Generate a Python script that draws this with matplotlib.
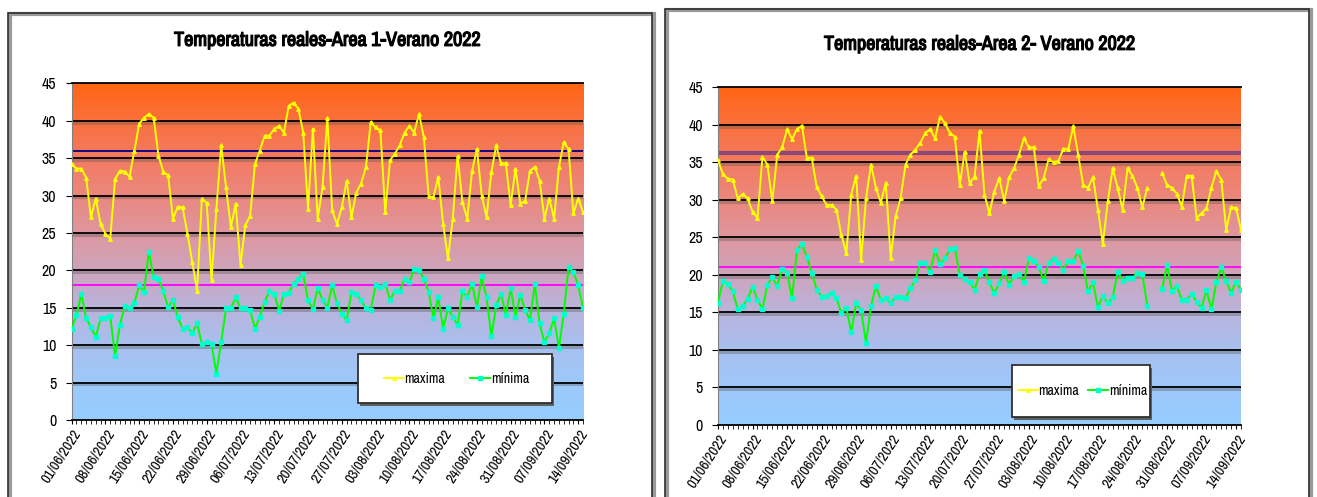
import numpy as np
import pandas as pd
import matplotlib
matplotlib.use("Agg")
import matplotlib.pyplot as plt
import matplotlib.patheffects as pe
from matplotlib import font_manager
from matplotlib.colors import LinearSegmentedColormap
from matplotlib.patches import Rectangle

# ---- data -------------------------------------------------------------
dates = pd.date_range("2022-06-01", periods=107)
tick_labels = [d.strftime("%d/%m/%Y") for d in dates[::7]]

area1_max = [34.2, 33.6, 33.6, 32.4, 27.1, 29.6, 26.2, 24.9, 24.2, 32.2,
             33.3, 33.2, 32.5, 36.0, 39.6, 40.4, 40.9, 40.4, 35.3, 33.2,
             32.7, 26.9, 28.5, 28.4, 24.9, 21.1, 17.3, 29.6, 29.0, 18.7,
             28.2, 36.7, 31.1, 25.8, 28.9, 20.7, 26.0, 27.3, 34.2, 36.0,
             38.0, 38.0, 38.9, 39.3, 38.4, 42.0, 42.4, 41.6, 38.4, 28.2,
             38.9, 26.9, 31.1, 40.4, 28.0, 26.2, 28.4, 32.0, 27.1, 30.4,
             31.6, 33.8, 39.8, 39.1, 38.7, 27.8, 34.7, 35.6, 36.7, 38.4,
             39.3, 38.4, 40.9, 37.8, 29.9, 29.8, 32.5, 26.2, 21.6, 26.9,
             35.3, 29.1, 26.9, 33.3, 36.2, 30.0, 27.1, 33.1, 36.7, 34.3,
             34.3, 28.7, 33.6, 28.9, 29.3, 33.3, 33.8, 32.0, 26.9, 29.6,
             26.9, 33.8, 37.1, 36.2, 27.6, 29.6, 27.8]
area1_min = [12.2, 14.0, 16.8, 13.6, 12.4, 11.1, 13.6, 13.6, 13.9, 8.5,
             12.7, 15.2, 14.9, 15.6, 18.0, 17.1, 22.5, 19.1, 18.9, 17.2,
             15.1, 16.0, 13.7, 12.2, 12.4, 11.6, 12.9, 10.1, 10.4, 10.1,
             6.2, 10.4, 14.9, 14.9, 16.4, 14.9, 14.9, 14.7, 12.2, 13.8,
             15.8, 17.2, 16.9, 14.6, 16.8, 17.0, 18.2, 18.9, 19.5, 16.0,
             14.8, 17.6, 16.1, 15.0, 18.0, 15.6, 14.2, 13.3, 17.1, 16.8,
             16.0, 14.9, 14.7, 18.0, 17.8, 18.2, 16.0, 17.3, 17.3, 18.9,
             18.4, 20.2, 20.0, 18.9, 17.1, 13.6, 16.4, 12.2, 14.9, 13.8,
             12.7, 17.2, 16.4, 18.2, 15.1, 19.2, 16.4, 11.2, 15.3, 16.9,
             14.0, 17.6, 13.8, 16.7, 14.7, 13.3, 18.2, 12.9, 10.4, 11.6,
             13.6, 9.6, 14.2, 20.4, 19.8, 18.0, 14.9]
area1_ref_max = 36.0
area1_ref_min = 18.0

nan = np.nan
area2_max = [35.3, 33.4, 32.8, 32.7, 30.2, 30.8, 30.2, 28.4, 27.6, 35.7,
             34.7, 29.8, 36.0, 37.0, 39.4, 38.1, 39.4, 39.9, 35.6, 35.6,
             31.7, 30.5, 29.3, 29.3, 28.7, 25.3, 22.9, 30.7, 33.2, 22.0,
             30.2, 34.7, 31.6, 29.6, 32.3, 22.2, 27.8, 30.2, 34.7, 36.0,
             36.7, 37.6, 38.9, 39.4, 38.2, 41.1, 40.2, 38.9, 38.4, 32.0,
             36.4, 32.2, 33.1, 39.2, 30.7, 28.2, 31.1, 32.9, 29.8, 33.0,
             34.2, 36.0, 38.2, 37.0, 37.0, 31.8, 32.9, 35.4, 35.0, 35.2,
             36.8, 36.8, 39.8, 36.0, 32.0, 31.6, 33.0, 28.7, 24.1, 29.8,
             34.2, 31.6, 28.7, 34.2, 33.2, 31.6, 29.0, 31.6, nan, nan,
             33.6, 32.0, 31.6, 30.8, 29.1, 33.2, 33.2, 27.6, 28.2, 28.9,
             31.6, 33.8, 32.7, 26.0, 29.0, 28.9, 26.0]
area2_min = [16.3, 19.2, 18.8, 17.8, 15.4, 15.8, 16.8, 18.4, 16.7, 15.4,
             18.7, 19.7, 18.5, 20.8, 20.2, 16.9, 23.3, 24.1, 22.4, 20.3,
             18.0, 17.1, 17.2, 17.6, 16.9, 14.9, 15.6, 12.4, 16.2, 15.3,
             10.9, 15.8, 18.5, 16.7, 16.9, 16.2, 17.1, 17.1, 16.9, 18.2,
             19.3, 21.6, 21.6, 20.4, 23.3, 21.5, 22.2, 23.4, 23.6, 20.0,
             19.4, 19.1, 18.0, 20.1, 20.7, 19.0, 17.6, 18.9, 20.4, 18.7,
             19.9, 20.1, 19.0, 22.2, 21.9, 21.0, 19.2, 21.6, 22.1, 21.6,
             20.7, 21.8, 21.8, 23.2, 21.2, 17.8, 19.0, 15.7, 17.2, 16.2,
             17.0, 20.4, 19.2, 19.6, 19.6, 20.3, 20.1, 15.9, nan, nan,
             18.1, 21.3, 17.9, 18.5, 16.7, 16.7, 17.5, 16.4, 15.6, 18.0,
             15.4, 19.0, 21.0, 19.2, 17.6, 19.1, 18.0]
area2_ref_max = 36.2
area2_ref_min = 21.0

# ---- style ------------------------------------------------------------
# look for a narrow face (Arial Narrow look of the original)
fonts = font_manager.fontManager.ttflist
narrow = [f for f in fonts if "Narrow" in f.name or "Condensed" in f.name]
condensed = [f for f in fonts if f.stretch in ("condensed", "semi-condensed")]
if narrow:
    plt.rcParams["font.family"] = [narrow[0].name, "DejaVu Sans"]
    squeeze = 1.0
elif condensed:
    plt.rcParams["font.family"] = [condensed[0].name, "DejaVu Sans"]
    plt.rcParams["font.stretch"] = condensed[0].stretch
    squeeze = 0.95
else:
    plt.rcParams["font.family"] = ["Liberation Sans", "DejaVu Sans"]
    squeeze = 0.85

bg_cmap = LinearSegmentedColormap.from_list("bg", [
    (0.00, (150/255, 205/255, 255/255)),
    (0.11, (158/255, 200/255, 250/255)),
    (0.22, (168/255, 192/255, 240/255)),
    (0.33, (185/255, 180/255, 220/255)),
    (0.44, (205/255, 165/255, 190/255)),
    (0.56, (222/255, 150/255, 158/255)),
    (0.67, (235/255, 135/255, 125/255)),
    (0.78, (243/255, 123/255, 98/255)),
    (0.89, (250/255, 112/255, 60/255)),
    (1.00, (255/255, 102/255, 20/255)),
])

bold_fx = [pe.withStroke(linewidth=0.9, foreground="black")]


def draw_panel(ax, title, tmax, tmin, ref_max, ref_min, ref_max_style,
               leg_frame, leg_center, colspace):
    x = np.arange(len(dates))
    ax.set_xlim(0, len(dates) - 1)
    ax.set_ylim(0, 45)
    grad = np.linspace(0, 1, 256).reshape(-1, 1)
    ax.imshow(grad, extent=[0, len(dates) - 1, 0, 45], origin="lower",
              aspect="auto", cmap=bg_cmap, zorder=0)
    for y in range(5, 45, 5):
        ax.axhline(y - 0.25, color="#555555", lw=2.2, alpha=0.35, zorder=1)
        ax.axhline(y, color="black", lw=1.3, zorder=1)

    ax.plot(x, [ref_max] * len(x), zorder=2, **ref_max_style)
    ax.plot(x, [ref_min] * len(x), color="#ff00ff", lw=1.3, zorder=2)

    ax.plot(x, tmax, color="#ffff00", lw=1.4, marker="^", ms=2.5,
            mec="#ffff00", mfc="#ffff00", zorder=3, label="maxima")
    ax.plot(x, tmin, color="#00ff00", lw=1.4, marker="s", ms=2.2,
            mec="#00ffcc", mfc="#00ffcc", zorder=3, label="m\u00ednima")

    t = ax.set_title(title, fontsize=14.5 * squeeze, fontweight="bold", pad=27)
    t.set_path_effects(bold_fx)
    ax.set_yticks(range(0, 46, 5))
    ax.tick_params(axis="y", labelsize=11.5 * squeeze, length=4, pad=7)
    ax.set_xticks(x[::7])
    ax.set_xticklabels(tick_labels, rotation=57, ha="right", va="top",
                       rotation_mode="anchor", fontsize=10.5 * squeeze)
    ax.set_xticks(x, minor=True)
    ax.tick_params(axis="x", which="both", length=3, pad=2)
    for s in ["top", "bottom"]:
        ax.spines[s].set_color("black")
        ax.spines[s].set_linewidth(1.3)
    ax.spines["left"].set_color("#808080")
    ax.spines["right"].set_visible(False)

    # legend box drawn by hand so its padding matches the original
    fx, fy, fw, fh = leg_frame
    ax.add_patch(Rectangle((fx + 0.004, fy - 0.008), fw, fh, transform=ax.transAxes,
                           facecolor="#606060", edgecolor="none", zorder=4))
    ax.add_patch(Rectangle((fx, fy), fw, fh, transform=ax.transAxes,
                           facecolor="white", edgecolor="#303030", lw=1.3, zorder=4))
    leg = ax.legend(loc="center", bbox_to_anchor=leg_center, ncol=2,
                    fontsize=10 * squeeze, frameon=False, handlelength=1.45,
                    handletextpad=0.05, columnspacing=colspace, borderpad=0.2)
    leg.set_zorder(5)


fig = plt.figure(figsize=(13.17, 4.97), dpi=100)

# panel frames
fig.patches.append(Rectangle((0.0075, -0.05), 0.489, 1.022, transform=fig.transFigure,
                             fill=False, edgecolor="#9a9a9a", lw=3, zorder=0))
fig.patches.append(Rectangle((0.0060, -0.05), 0.489, 1.024, transform=fig.transFigure,
                             fill=False, edgecolor="#303030", lw=1.2, zorder=0))
fig.patches.append(Rectangle((0.5065, -0.05), 0.489, 1.029, transform=fig.transFigure,
                             fill=False, edgecolor="#9a9a9a", lw=3, zorder=0))
fig.patches.append(Rectangle((0.5050, -0.05), 0.489, 1.031, transform=fig.transFigure,
                             fill=False, edgecolor="#303030", lw=1.2, zorder=0))

ax1 = fig.add_axes([0.0544, 0.155, 0.3883, 0.6774])
ax2 = fig.add_axes([0.5452, 0.145, 0.3971, 0.6794])

draw_panel(ax1, "Temperaturas reales-Area 1-Verano 2022", area1_max, area1_min,
           area1_ref_max, area1_ref_min, dict(color="#000080", lw=1.3),
           (0.560, 0.0505, 0.379, 0.146), (0.7526, 0.123), 1.8)
draw_panel(ax2, "Temperaturas reales-Area 2- Verano 2022", area2_max, area2_min,
           area2_ref_max, area2_ref_min, dict(color="#6a3a80", lw=3.0, alpha=0.75),
           (0.562, 0.0237, 0.264, 0.154), (0.697, 0.1007), 0.65)

fig.savefig("out.png", dpi=100)
